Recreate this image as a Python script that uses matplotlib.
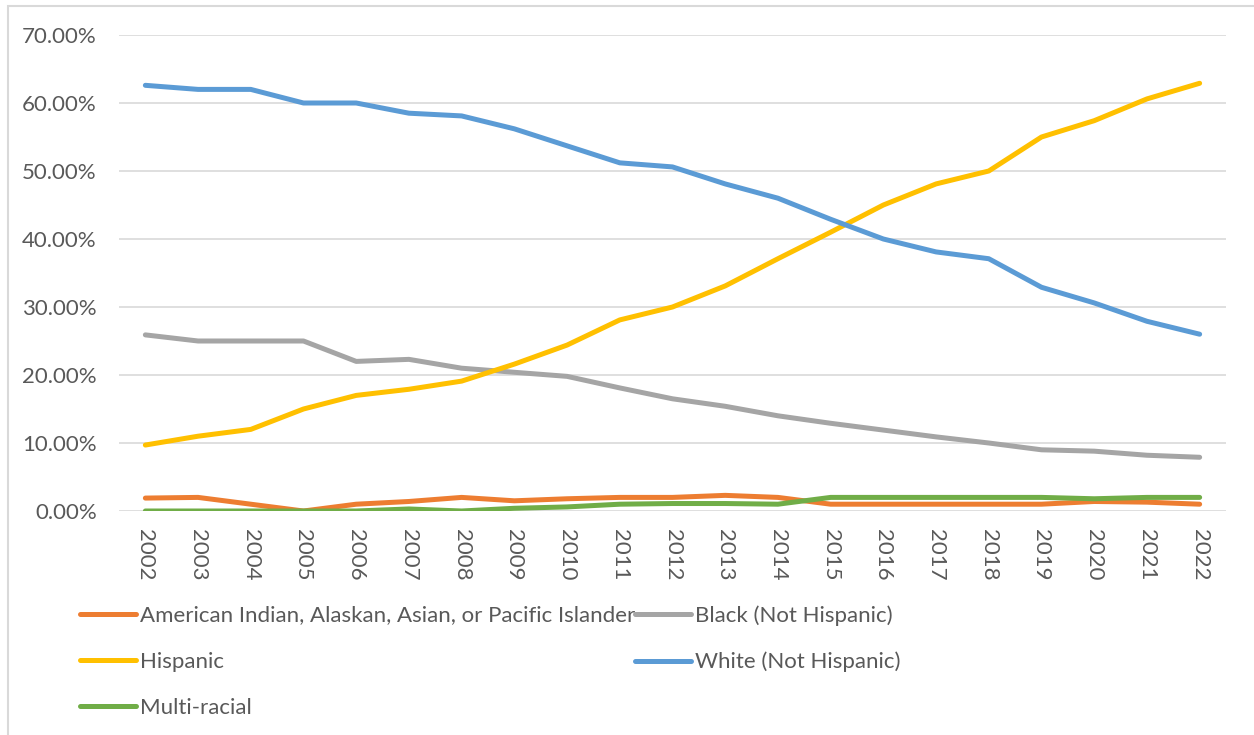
import matplotlib
matplotlib.use("Agg")
import matplotlib.pyplot as plt
from matplotlib.ticker import FuncFormatter, MultipleLocator
from matplotlib.patches import Rectangle

years = list(range(2002, 2023))
aiaapi = [1.9, 2.0, 1.0, 0.0, 1.0, 1.4, 2.0, 1.5, 1.8, 2.0, 2.0, 2.3, 2.0, 1.0, 1.0, 1.0, 1.0, 1.0, 1.4, 1.3, 1.0]
black = [25.9, 25.0, 25.0, 25.0, 22.0, 22.3, 21.0, 20.4, 19.8, 18.1, 16.5, 15.4, 14.0, 12.9, 11.9, 10.9, 10.0, 9.0, 8.8, 8.2, 7.9]
hispanic = [9.7, 11.0, 12.0, 15.0, 17.0, 17.9, 19.1, 21.6, 24.4, 28.1, 30.0, 33.1, 37.1, 41.0, 45.0, 48.1, 50.0, 55.0, 57.4, 60.6, 62.9]
white = [62.6, 62.0, 62.0, 60.0, 60.0, 58.5, 58.1, 56.2, 53.7, 51.2, 50.6, 48.1, 46.0, 42.9, 40.0, 38.1, 37.1, 32.9, 30.6, 27.9, 26.0]
multi = [0.0, 0.0, 0.0, 0.0, 0.0, 0.3, 0.0, 0.4, 0.6, 1.0, 1.1, 1.1, 1.0, 2.0, 2.0, 2.0, 2.0, 2.0, 1.8, 2.0, 2.0]

names = ["American Indian, Alaskan, Asian, or Pacific Islander", "Black (Not Hispanic)",
         "Hispanic", "White (Not Hispanic)", "Multi-racial"]
colors = ["#ED7D31", "#A5A5A5", "#FFC000", "#5B9BD5", "#70AD47"]
series = [aiaapi, black, hispanic, white, multi]

FONT = "Lato"
TXT = "#595959"
plt.rcParams["font.family"] = [FONT, "DejaVu Sans"]

fig = plt.figure(figsize=(12.54, 7.35), dpi=100)
ax = fig.add_axes([119/1254, 1-511/735, (1226-119)/1254, (511-35)/735])

# chart border (Excel chart area)
fig.patches.append(Rectangle((8/1254, -0.1), 1.2, (735-6)/735 + 0.1, transform=fig.transFigure,
                             fill=False, edgecolor="#D9D9D9", linewidth=1.5))

x = list(range(len(years)))
handles = []
for vals, c, n in zip(series, colors, names):
    h, = ax.plot(x, vals, color=c, linewidth=3.6, solid_capstyle="round", label=n)
    handles.append(h)

ax.set_ylim(0, 70)
ax.set_xlim(-0.5, len(years) - 0.5)
ax.yaxis.set_major_locator(MultipleLocator(10))
ax.yaxis.set_major_formatter(FuncFormatter(lambda v, p: f"{v:.2f}%"))
ax.set_xticks(x)
ax.set_xticklabels([str(y) for y in years], rotation=-90)
ax.grid(axis="y", color="#D9D9D9", linewidth=1.2)
ax.set_axisbelow(True)
for s in ax.spines.values():
    s.set_visible(False)
ax.tick_params(axis="both", length=0, labelsize=16, labelcolor=TXT)
ax.tick_params(axis="y", pad=16)
ax.tick_params(axis="x", pad=13)

order = [0, 2, 4, 1, 3]
leg = fig.legend([handles[i] for i in order], [names[i] for i in order], ncol=2,
                 loc="upper left", bbox_to_anchor=(80/1254, 1-605/735), frameon=False,
                 fontsize=16, labelcolor=TXT, handlelength=2.5, handletextpad=0.2,
                 columnspacing=0.0, labelspacing=1.18, borderaxespad=0, borderpad=0)
for l in leg.get_lines():
    l.set_linewidth(3.6)

fig.savefig("out.png", dpi=100)
